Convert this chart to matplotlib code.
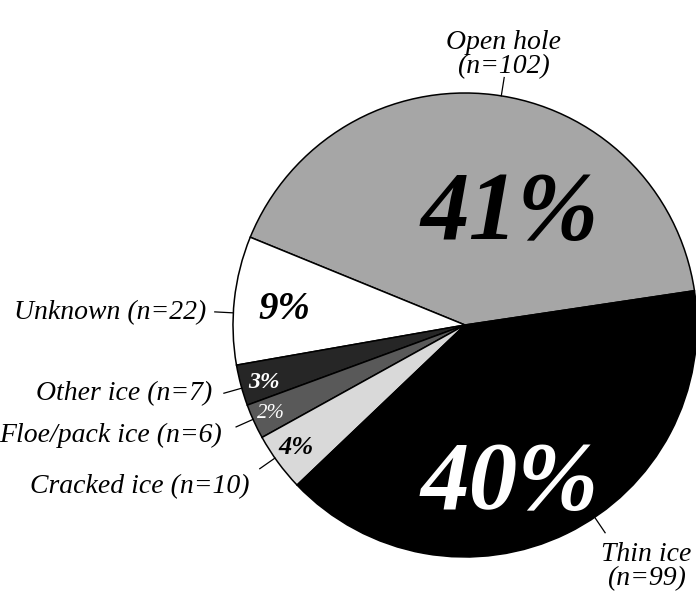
import numpy as np
import matplotlib.pyplot as plt

categories = ["Open hole", "Unknown", "Other ice", "Floe/pack ice", "Cracked ice", "Thin ice"]
counts = [102, 22, 7, 6, 10, 99]
colors = ["#a6a6a6", "#ffffff", "#262626", "#595959", "#d9d9d9", "#000000"]

plt.rcParams['font.family'] = ['Liberation Serif', 'DejaVu Serif']

W, H = 696, 593
fig = plt.figure(figsize=(W / 100, H / 100), dpi=100)
ax = fig.add_axes([0, 0, 1, 1])

cx, cy, R = 465, H - 325, 232
start = 8.5
ax.pie(counts, colors=colors, startangle=start, counterclock=True,
       center=(cx, cy), radius=R,
       wedgeprops=dict(edgecolor="black", linewidth=1.1))
ax.set_xlim(0, W)
ax.set_ylim(0, H)
ax.set_aspect("equal")
ax.axis("off")

total = sum(counts)
pcts = [round(100 * n / total) for n in counts]

def polar(ang, r):
    a = np.radians(ang)
    return cx + R * r * np.cos(a), cy + R * r * np.sin(a)

# percentage labels: (radius fraction, angle, size, colour, weight)
pct_style = [
    (0.51, 67.8, 70, "black", "bold"),
    (0.78, 175, 28, "black", "bold"),
    (0.90, 196, 17, "white", "bold"),
    (0.92, 204.5, 15, "white", "normal"),
    (0.90, 215.8, 19, "black", "bold"),
    (0.72, -74.5, 70, "white", "bold"),
]
for p, (r, ang, fs, c, w) in zip(pcts, pct_style):
    x, y = polar(ang, r)
    ax.text(x, y, f"{p}%", fontsize=fs, color=c, fontweight=w, style="italic",
            ha="center", va="center")

# leader lines and category labels
leader_ang = [81, 177, 195.8, 204, 215, 304]
label_pos = [(503, 55, "center"), (206, 313, "right"), (212, 394, "right"),
             (222, 435, "right"), (250, 487, "right"), (646, 567, "center")]
for name, n, ang, (tx, ty, ha) in zip(categories, counts, leader_ang, label_pos):
    x0, y0 = polar(ang, 1.0)
    x1, y1 = polar(ang, 1.08)
    ax.plot([x0, x1], [y0, y1], color="black", lw=0.9)
    if ha == "center":
        txt = f"{name}\n(n={n})"
    else:
        txt = f"{name} (n={n})"
    ax.text(tx, H - ty, txt, fontsize=20, style="italic", ha=ha, va="center",
            linespacing=0.95)

fig.savefig("out.png", dpi=100)
